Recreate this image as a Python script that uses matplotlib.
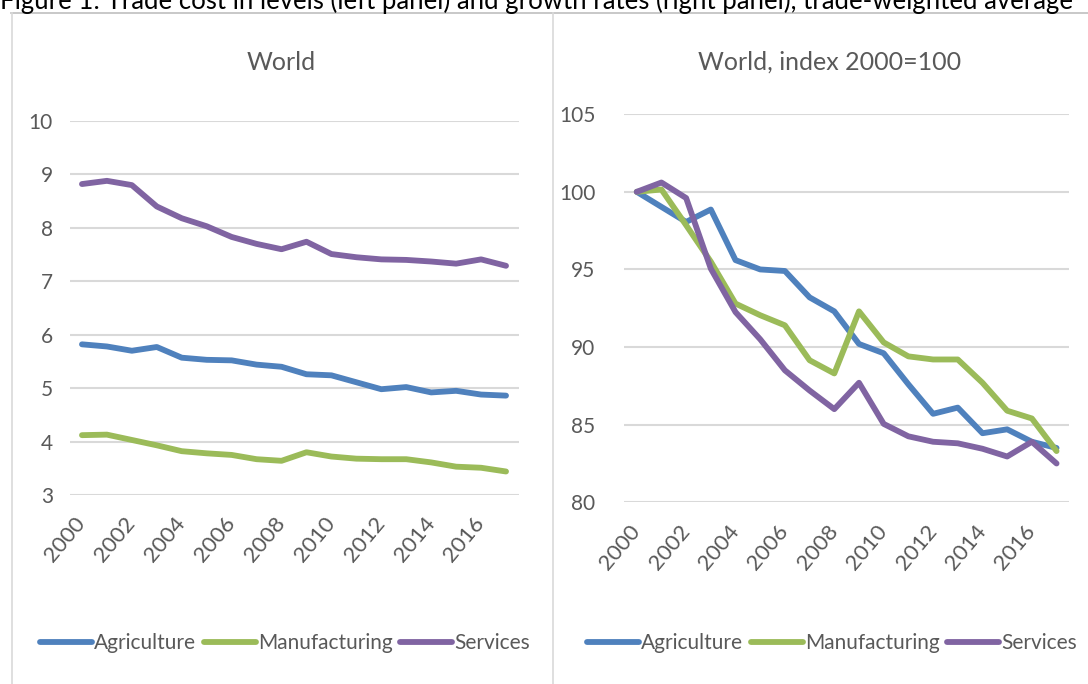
import numpy as np
import matplotlib
matplotlib.use('Agg')
import matplotlib.pyplot as plt
from matplotlib.lines import Line2D

plt.rcParams['font.family'] = ['Lato', 'DejaVu Sans']

years = list(range(2000, 2018))
year_labels = [str(y) if y % 2 == 0 else '' for y in years]

# left panel: trade cost levels
agri_lvl = [5.82, 5.78, 5.70, 5.77, 5.57, 5.53, 5.52, 5.44, 5.40, 5.26, 5.24, 5.11, 4.98, 5.02, 4.92, 4.95, 4.88, 4.86]
manu_lvl = [4.12, 4.13, 4.03, 3.93, 3.82, 3.78, 3.75, 3.67, 3.64, 3.80, 3.72, 3.68, 3.67, 3.67, 3.61, 3.53, 3.51, 3.44]
serv_lvl = [8.82, 8.88, 8.80, 8.40, 8.18, 8.03, 7.83, 7.70, 7.60, 7.74, 7.51, 7.45, 7.41, 7.40, 7.37, 7.33, 7.41, 7.29]

# right panel: index 2000=100
agri_idx = [100, 99.03, 98.06, 98.86, 95.6, 95.0, 94.9, 93.2, 92.3, 90.2, 89.6, 87.6, 85.7, 86.1, 84.45, 84.7, 83.9, 83.5]
manu_idx = [100, 100.15, 97.85, 95.5, 92.8, 92.05, 91.4, 89.15, 88.3, 92.3, 90.3, 89.4, 89.2, 89.2, 87.7, 85.9, 85.4, 83.3]
serv_idx = [100, 100.6, 99.6, 95.05, 92.25, 90.5, 88.5, 87.2, 86.0, 87.7, 85.05, 84.25, 83.9, 83.8, 83.45, 82.95, 83.9, 82.5]

names = ['Agriculture', 'Manufacturing', 'Services']
colors = ['#4F81BD', '#9BBB59', '#8064A2']
txt = '#595959'

fig = plt.figure(figsize=(10.88, 6.84), dpi=100)

# caption (cut off at the top in the source) and panel frames
fig.text(0.0, 1 - 9.5 / 684, 'Figure 1: Trade cost in levels (left panel) and growth rates (right panel), trade-weighted average',
         fontsize=18.5, color='black', ha='left', va='baseline')
fig.add_artist(Line2D([11 / 1088, 1], [1 - 12.5 / 684] * 2, color='#BFBFBF', lw=1.2))
fig.add_artist(Line2D([11.5 / 1088] * 2, [0, 1 - 12.5 / 684], color='#D9D9D9', lw=1.2))
fig.add_artist(Line2D([553 / 1088] * 2, [0, 1 - 12.5 / 684], color='#D9D9D9', lw=1.2))

ax1 = fig.add_axes([69.5 / 1088, 1 - 495 / 684, 449 / 1088, 374 / 684])
ax2 = fig.add_axes([624.4 / 1088, 1 - 502.3 / 684, 444.5 / 1088, 388.1 / 684])

x = np.arange(len(years))
for ax, series, lx in [(ax1, [agri_lvl, manu_lvl, serv_lvl], 285), (ax2, [agri_idx, manu_idx, serv_idx], 832)]:
    for vals, c, n in zip(series, colors, names):
        ax.plot(x, vals, color=c, lw=4.2, label=n, solid_capstyle='round', solid_joinstyle='round')
    ax.set_xlim(-0.5, len(years) - 0.5)
    for s in ax.spines.values():
        s.set_visible(False)
    ax.grid(axis='y', color='#D9D9D9', lw=1.5)
    ax.set_axisbelow(True)
    ax.set_xticks(x)
    ax.set_xticklabels(year_labels, rotation=50, ha='right', va='center', rotation_mode='anchor')
    ax.tick_params(axis='x', length=0, pad=18, labelsize=16, labelcolor=txt)
    ax.tick_params(axis='y', length=0, labelsize=15, labelcolor=txt)
    ax.legend(loc='center', bbox_to_anchor=(lx / 1088, 1 - 643 / 684), bbox_transform=fig.transFigure,
              ncol=3, frameon=False, fontsize=15, labelcolor=txt, handlelength=2.5,
              handletextpad=0.1, columnspacing=0.35, borderpad=0)

ax1.set_ylim(3, 10)
ax1.set_yticks(range(3, 11))
ax1.tick_params(axis='y', pad=12)
ax2.set_ylim(80, 105)
ax2.set_yticks(range(80, 106, 5))
ax2.tick_params(axis='y', pad=21)

fig.text(281 / 1088, 1 - 62 / 684, 'World', fontsize=18, color=txt, ha='center', va='center')
fig.text(830 / 1088, 1 - 62 / 684, 'World, index 2000=100', fontsize=18, color=txt, ha='center', va='center')

fig.savefig('out.png', dpi=100)
